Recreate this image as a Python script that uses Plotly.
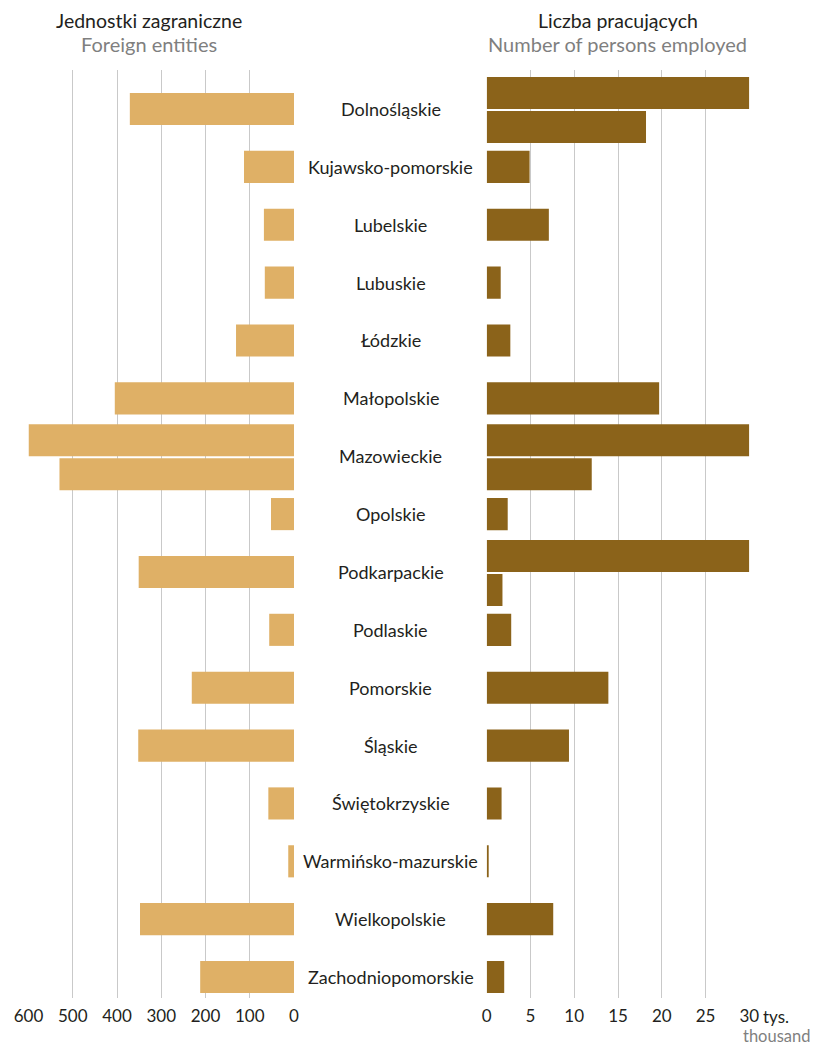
import plotly.graph_objects as go

# ---------------- data ----------------
regions = [
    "Dolnośląskie", "Kujawsko-pomorskie", "Lubelskie", "Lubuskie", "Łódzkie",
    "Małopolskie", "Mazowieckie", "Opolskie", "Podkarpackie", "Podlaskie",
    "Pomorskie", "Śląskie", "Świętokrzyskie", "Warmińsko-mazurskie",
    "Wielkopolskie", "Zachodniopomorskie",
]
# foreign entities (values above the axis maximum wrap onto a second bar)
entities = [371, 113, 68, 66, 131, 405, 1130, 52, 351, 56, 231, 352, 58, 13, 348, 212]
# persons employed, thousands
employed = [48.2, 4.9, 7.1, 1.6, 2.7, 19.7, 42.0, 2.4, 31.8, 2.8, 13.9, 9.4, 1.7, 0.2, 7.6, 2.0]

left_ticks = [0, 100, 200, 300, 400, 500, 600]
right_ticks = [0, 5, 10, 15, 20, 25, 30]
right_ticktext = ["0", "5", "10", "15", "20", "25", "30"]
left_max = 600
right_max = 30

title_left = ("Jednostki zagraniczne", "Foreign entities")
title_right = ("Liczba pracujących", "Number of persons employed")
unit_pl, unit_en = "tys.", "thousand"

# ---------------- style ----------------
W, H = 815, 1046
FONT = "Lato"
DARK = "#231F20"
GREY = "#7F7F7F"
LIGHT_BAR = "#DFB066"
DARK_BAR = "#8B631A"
GRID = "#C9C9C9"

plot_top, plot_bot = 70, 998
row0_px, row_step = 109, 57.87
bar_w = 0.555
off1, off2 = -16.0 / row_step, 18.0 / row_step

def px(x):
    return x / W

def py(y):
    return 1 - y / H

yr_top = -(row0_px - plot_top) / row_step
yr_bot = (len(regions) - 1) + (plot_bot - (row0_px + (len(regions) - 1) * row_step)) / row_step


def split(vals, cap):
    single_y, single_x, first_y, first_x, second_y, second_x = [], [], [], [], [], []
    for i, v in enumerate(vals):
        if v <= cap:
            single_y.append(i); single_x.append(v)
        else:
            first_y.append(i + off1); first_x.append(cap)
            second_y.append(i + off2); second_x.append(v - cap)
    return single_y, single_x, first_y + second_y, first_x + second_x


fig = go.Figure()
for vals, cap, color, xa in [(entities, left_max, LIGHT_BAR, "x"), (employed, right_max, DARK_BAR, "x2")]:
    sy, sx, dy, dx = split(vals, cap)
    fig.add_trace(go.Bar(y=sy, x=sx, orientation="h", width=bar_w, marker=dict(color=color, line=dict(width=0)),
                         xaxis=xa, yaxis="y", hoverinfo="x"))
    fig.add_trace(go.Bar(y=dy, x=dx, orientation="h", width=bar_w, marker=dict(color=color, line=dict(width=0)),
                         xaxis=xa, yaxis="y", hoverinfo="x"))

ydom = [py(plot_bot), py(plot_top)]
axis_common = dict(showgrid=True, gridcolor=GRID, gridwidth=1, zeroline=False, showline=False,
                   ticks="", tickfont=dict(family=FONT, size=17, color=DARK), automargin=False,
                   fixedrange=True, anchor="y", ticklabelstandoff=6)
fig.update_layout(
    width=W, height=H,
    margin=dict(l=0, r=0, t=0, b=0),
    paper_bgcolor="white", plot_bgcolor="white",
    showlegend=False, barmode="overlay",
    font=dict(family=FONT, color=DARK),
    xaxis=dict(domain=[px(28.5), px(294)], range=[left_max, 0], tickvals=left_ticks, **axis_common),
    xaxis2=dict(domain=[px(486.7), px(749.3)], range=[0, right_max], tickvals=right_ticks,
                ticktext=right_ticktext, **axis_common),
    yaxis=dict(domain=ydom, range=[yr_bot, yr_top], showgrid=False, zeroline=False, showticklabels=False,
               showline=False, ticks="", fixedrange=True),
)

ann = []
for i, r in enumerate(regions):
    ann.append(dict(x=px(390.5), xref="paper", y=i, yref="y", text=r, showarrow=False,
                    xanchor="center", yanchor="middle", font=dict(family=FONT, size=18, color=DARK)))
for cx, (pl, en) in [(149, title_left), (617.5, title_right)]:
    ann.append(dict(x=px(cx), xref="paper", y=py(20), yref="paper", text=pl, showarrow=False,
                    xanchor="center", yanchor="middle", font=dict(family=FONT, size=19.5, color=DARK)))
    ann.append(dict(x=px(cx), xref="paper", y=py(44), yref="paper", text=en, showarrow=False,
                    xanchor="center", yanchor="middle", font=dict(family=FONT, size=20, color=GREY)))
ann.append(dict(x=right_max, xref="x2", y=py(1016), yref="paper", text=unit_pl, showarrow=False,
                xanchor="left", yanchor="middle", xshift=12, font=dict(family=FONT, size=17, color=DARK)))
ann.append(dict(x=px(741), xref="paper", y=py(1036), yref="paper", text=unit_en, showarrow=False,
                xanchor="left", yanchor="middle", font=dict(family=FONT, size=16.5, color=GREY)))
fig.update_layout(annotations=ann)

fig.write_html("out.html", config={"displayModeBar": False},
               post_script="document.body.style.margin='0';document.body.style.overflow='hidden';")
